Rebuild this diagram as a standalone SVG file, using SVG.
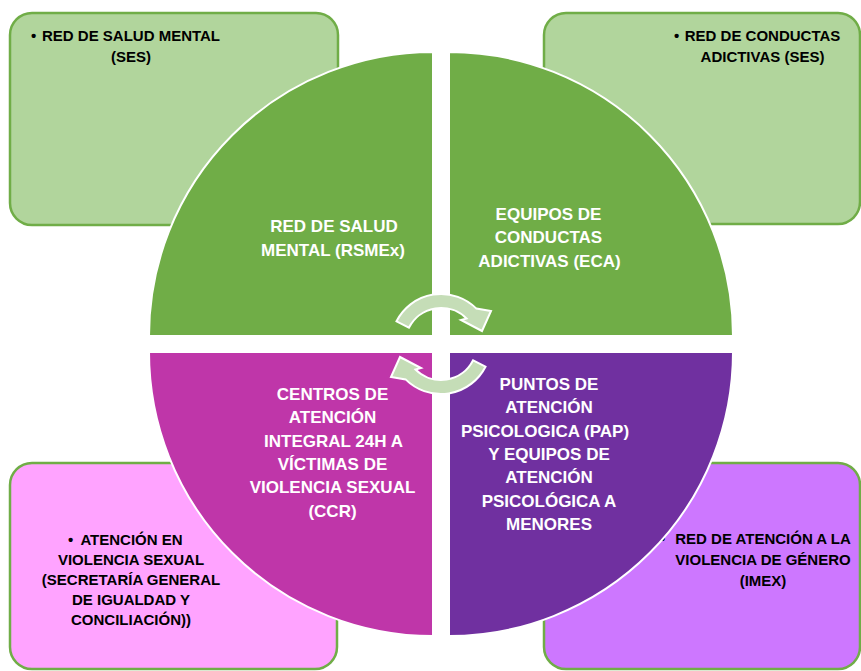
<svg xmlns="http://www.w3.org/2000/svg" width="861" height="671" viewBox="0 0 861 671">
<style>
.box{stroke:#70AD47;stroke-width:2.5}
.g1{fill:#B1D59C}
.pk{fill:#FFA3FF}
.lp{fill:#CD77FF}
.bt{font-family:"Liberation Sans",Arial,sans-serif;font-weight:bold;font-size:15px;fill:#000;text-anchor:middle}
.bl{font-family:"Liberation Sans",Arial,sans-serif;font-weight:bold;font-size:15px;fill:#000}
.q{stroke:#fff;stroke-width:2}
.qt{font-family:"Liberation Sans",Arial,sans-serif;font-weight:bold;font-size:17px;fill:#fff;text-anchor:middle}
.arr{fill:#C5DDB7;stroke:#fff;stroke-width:2;stroke-linejoin:miter}
</style>
<rect width="861" height="671" fill="#fff"/>
<g id="box-tl">
<rect class="box g1" x="10" y="13" width="328" height="212" rx="22"/>
<text class="bl" x="31" y="40.5">•</text>
<text class="bt" x="131" y="40.5">RED DE SALUD MENTAL</text>
<text class="bt" x="131" y="61.5">(SES)</text>
</g>
<g id="box-tr">
<rect class="box g1" x="544" y="13" width="316" height="211" rx="22"/>
<text class="bl" x="674" y="40.5">•</text>
<text class="bt" x="762.5" y="40.5">RED DE CONDUCTAS</text>
<text class="bt" x="762.5" y="61.5">ADICTIVAS (SES)</text>
</g>
<g id="box-bl">
<rect class="box pk" x="10" y="463" width="327" height="206" rx="22"/>
<text class="bl" x="68" y="545">•</text>
<text class="bt" x="131.5" y="545">ATENCIÓN EN</text>
<text class="bt" x="131" y="565">VIOLENCIA SEXUAL</text>
<text class="bt" x="131" y="585">(SECRETARÍA GENERAL</text>
<text class="bt" x="131" y="605">DE IGUALDAD Y</text>
<text class="bt" x="131" y="625">CONCILIACIÓN))</text>
</g>
<g id="box-br">
<rect class="box lp" x="544" y="463" width="316" height="206" rx="22"/>
<text class="bl" x="660" y="544">•</text>
<text class="bt" x="763" y="544">RED DE ATENCIÓN A LA</text>
<text class="bt" x="763" y="565">VIOLENCIA DE GÉNERO</text>
<text class="bt" x="763" y="586">(IMEX)</text>
</g>
<g id="q-tl">
<path class="q" fill="#70AD47" d="M433 336 L149 336 A284 284 0 0 1 433 52 Z"/>
<text class="qt" x="334" y="232">RED DE SALUD</text>
<text class="qt" x="333" y="255.5">MENTAL (RSMEx)</text>
</g>
<g id="q-tr">
<path class="q" fill="#70AD47" d="M449 336 L449 52 A284 284 0 0 1 733 336 Z"/>
<text class="qt" x="548.5" y="220">EQUIPOS DE</text>
<text class="qt" x="548.5" y="243">CONDUCTAS</text>
<text class="qt" x="549.5" y="266.5">ADICTIVAS (ECA)</text>
</g>
<g id="q-br">
<path class="q" fill="#7030A0" d="M449 352 L733 352 A284 284 0 0 1 449 636 Z"/>
<text class="qt" x="549" y="390">PUNTOS DE</text>
<text class="qt" x="549" y="413.3">ATENCIÓN</text>
<text class="qt" x="545" y="436.6">PSICOLOGICA (PAP)</text>
<text class="qt" x="549" y="460">Y EQUIPOS DE</text>
<text class="qt" x="549" y="483.3">ATENCIÓN</text>
<text class="qt" x="549" y="506.6">PSICOLÓGICA A</text>
<text class="qt" x="549" y="530">MENORES</text>
</g>
<g id="q-bl">
<path class="q" fill="#BF36A9" d="M433 352 L433 636 A284 284 0 0 1 149 352 Z"/>
<text class="qt" x="332.5" y="400">CENTROS DE</text>
<text class="qt" x="332.5" y="423.3">ATENCIÓN</text>
<text class="qt" x="333.5" y="446.6">INTEGRAL 24H A</text>
<text class="qt" x="332.5" y="470">VÍCTIMAS DE</text>
<text class="qt" x="332.5" y="493.3">VIOLENCIA SEXUAL</text>
<text class="qt" x="332.5" y="516.6">(CCR)</text>
</g>
<g id="connectors">
<path id="arrow-top" class="arr" d="M396.5 321.3 A50 50 0 0 1 476.4 308.6 L491 311 L482 331 L461 320 L466.5 318.5 A36 36 0 0 0 408.9 327.7 Z"/>
<path id="arrow-bottom" class="arr" transform="rotate(180 441 344)" d="M396.5 321.3 A50 50 0 0 1 476.4 308.6 L491 311 L482 331 L461 320 L466.5 318.5 A36 36 0 0 0 408.9 327.7 Z"/>
</g>
</svg>
